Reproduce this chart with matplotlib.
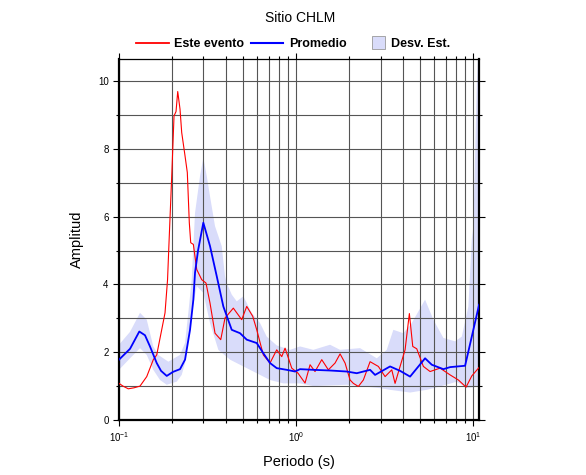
import numpy as np
import matplotlib
matplotlib.use("Agg")
import matplotlib.pyplot as plt
from matplotlib.lines import Line2D
from matplotlib.patches import Patch, Rectangle
from matplotlib.legend_handler import HandlerPatch

plt.rcParams['font.family'] = ['Liberation Sans', 'DejaVu Sans']

# event spectral ratio (red)
evt_T = [0.100, 0.1053, 0.1128, 0.1216, 0.1314, 0.1434, 0.1562, 0.1633, 0.1742, 0.1819,
         0.1880, 0.1915, 0.1985, 0.2045, 0.2099, 0.2146, 0.2211, 0.2260, 0.2360, 0.2431,
         0.2495, 0.2541, 0.2630, 0.2748, 0.2932, 0.3100, 0.3266, 0.3485, 0.3755, 0.3970,
         0.4423, 0.4933, 0.5266, 0.5692, 0.5998, 0.6533, 0.7128, 0.7777, 0.8303, 0.8669,
         0.9456, 1.026, 1.124, 1.200, 1.280, 1.397, 1.522, 1.661, 1.773, 1.892,
         2.019, 2.108, 2.249, 2.400, 2.619, 2.917, 3.184, 3.473, 3.625, 3.869,
         4.129, 4.366, 4.563, 4.807, 5.239, 5.716, 6.511, 7.417, 8.260, 9.130,
         9.833, 10.81]
evt_A = [1.08, 1.00, 0.92, 0.95, 1.00, 1.28, 1.78, 1.92, 2.66, 3.16,
         4.14, 5.20, 7.20, 8.97, 9.10, 9.69, 9.17, 8.48, 7.79, 7.30,
         5.82, 5.23, 5.18, 4.44, 4.14, 4.04, 3.45, 2.56, 2.37, 3.01,
         3.30, 2.96, 3.35, 3.06, 2.66, 1.92, 1.68, 2.07, 1.87, 2.12,
         1.53, 1.38, 1.09, 1.63, 1.43, 1.78, 1.48, 1.68, 1.95, 1.68,
         1.18, 1.08, 0.99, 1.18, 1.72, 1.58, 1.28, 1.48, 1.08, 1.58,
         2.07, 3.14, 2.17, 2.10, 1.58, 1.43, 1.53, 1.33, 1.18, 0.97,
         1.30, 1.55]

# mean (blue)
avg_T = [0.100, 0.1154, 0.1302, 0.1402, 0.1496, 0.1633, 0.1727, 0.1860, 0.2019, 0.2211,
         0.2360, 0.2518, 0.2630, 0.2688, 0.2795, 0.2994, 0.3266, 0.3565, 0.3884, 0.4332,
         0.4827, 0.5266, 0.5998, 0.6533, 0.7128, 0.7777, 0.8860, 0.9872, 1.053, 1.252,
         1.556, 1.934, 2.203, 2.619, 2.795, 3.397, 3.869, 4.407, 5.356, 5.845,
         6.796, 7.417, 9.013, 9.833, 10.81]
avg_A = [1.78, 2.10, 2.61, 2.50, 2.17, 1.68, 1.45, 1.30, 1.42, 1.50,
         1.78, 2.66, 3.55, 4.35, 5.00, 5.82, 5.13, 4.24, 3.35, 2.66,
         2.56, 2.37, 2.27, 1.97, 1.68, 1.53, 1.48, 1.43, 1.50, 1.48,
         1.46, 1.43, 1.38, 1.48, 1.33, 1.58, 1.45, 1.28, 1.82, 1.63,
         1.50, 1.56, 1.60, 2.46, 3.40]

# standard deviation band
up_T = [0.100, 0.1154, 0.1314, 0.1434, 0.1562, 0.1667, 0.1899, 0.2211, 0.2360, 0.2463,
        0.2574, 0.2688, 0.2869, 0.2994, 0.3130, 0.3266, 0.3485, 0.3803, 0.3970, 0.4060,
        0.4332, 0.4624, 0.5039, 0.5620, 0.6261, 0.6831, 0.7777, 0.9249, 1.053, 1.252,
        1.556, 1.773, 2.300, 2.857, 3.253, 3.546, 4.039, 4.505, 5.356, 5.967,
        6.796, 7.913, 8.636, 9.407, 9.833, 10.04, 10.49, 10.81]
up_A = [2.22, 2.60, 3.16, 2.96, 2.17, 1.92, 1.72, 1.92, 2.27, 3.16,
        4.14, 6.11, 7.20, 7.74, 7.20, 6.60, 5.72, 5.13, 4.24, 4.04,
        3.70, 3.50, 3.65, 3.16, 2.86, 2.46, 2.20, 2.07, 2.17, 2.07,
        2.22, 2.07, 2.12, 1.82, 2.07, 2.66, 2.56, 2.86, 3.55, 2.96,
        2.42, 2.32, 2.46, 3.35, 5.33, 5.72, 9.86, 11.5]
lo_T = [0.100, 0.1154, 0.1314, 0.1434, 0.1562, 0.1704, 0.1860, 0.2118, 0.2260, 0.2360,
        0.2463, 0.2574, 0.2750, 0.2994, 0.3266, 0.3639, 0.4238, 0.5039, 0.5998, 0.7128,
        0.8478, 1.053, 1.252, 1.934, 2.982, 3.397, 4.407, 5.476, 6.511, 8.090,
        9.213, 10.81]
lo_A = [1.48, 1.82, 2.12, 1.92, 1.48, 1.18, 1.04, 1.13, 1.33, 1.68,
        2.37, 3.16, 3.95, 3.75, 2.86, 2.07, 1.78, 1.58, 1.38, 1.18,
        1.08, 1.08, 1.00, 1.04, 0.94, 0.89, 0.81, 0.89, 0.99, 1.13,
        0.94, 0.99]

band_col = '#d9dcfa'

fig = plt.figure(figsize=(5.86, 4.75), dpi=100)
ax = fig.add_axes([0.2031, 0.1158, 0.6143, 0.76])

ax.fill(np.concatenate([up_T, lo_T[::-1]]), np.concatenate([up_A, lo_A[::-1]]),
        color=band_col, lw=0, zorder=1)
ax.plot(evt_T, evt_A, color='#ff0000', lw=0.8, zorder=3)
ax.plot(avg_T, avg_A, color='#0000ff', lw=1.3, zorder=4)

ax.set_xscale('log')
ax.set_xlim(0.1, 10.8)
ax.set_ylim(0, 10.65)
ax.set_yticks([0, 2, 4, 6, 8, 10])
ax.set_yticks([1, 3, 5, 7, 9], minor=True)
ax.grid(True, which='both', color='#555555', lw=0.8, zorder=2)

ax.tick_params(which='both', direction='out', top=True, right=True,
               labelsize=7, width=0.8, length=4)
ax.tick_params(which='minor', length=2.5)
for s in ['left', 'bottom', 'right']:
    ax.spines[s].set_linewidth(1.6)
ax.spines['top'].set_linewidth(0.9)

ax.set_xlabel('Periodo (s)', fontsize=10.5, labelpad=8)
ax.set_ylabel('Amplitud', fontsize=10.5, labelpad=10)
fig.text(0.512, 0.962, 'Sitio CHLM', ha='center', va='center', fontsize=10)


def square(legend, orig_handle, xdescent, ydescent, width, height, fontsize):
    s = height * 1.5
    return Rectangle((-xdescent + width - s, -ydescent + (height - s) / 2), s, s)


handles = [Line2D([], [], color='#ff0000', lw=1.3),
           Line2D([], [], color='#0000ff', lw=1.5),
           Patch(facecolor=band_col, edgecolor='#999999', lw=0.6)]
fig.legend(handles, ['Este evento', 'Promedio', 'Desv. Est.'], loc='center',
           bbox_to_anchor=(0.5, 0.907), ncol=3, frameon=False,
           prop={'weight': 'bold', 'size': 9}, handlelength=2.6,
           columnspacing=0.5, handletextpad=0.45,
           handler_map={Patch: HandlerPatch(patch_func=square)})

fig.savefig('out.png', dpi=100)
